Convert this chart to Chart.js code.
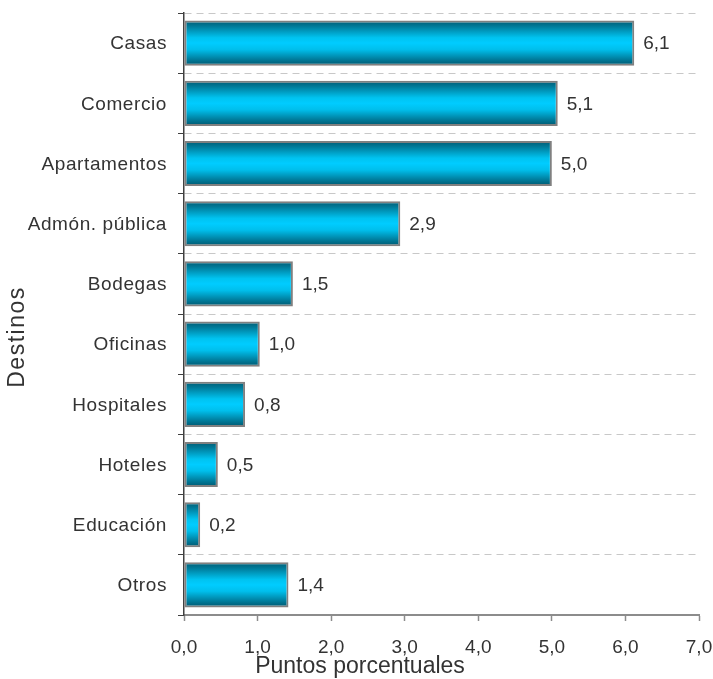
<!DOCTYPE html>
<html>
<head>
<meta charset="utf-8">
<title>Destinos - puntos porcentuales</title>
<script src="https://cdn.jsdelivr.net/npm/chart.js@4"></script>
<style>
    html, body { margin: 0; padding: 0; background: #fff; }
    #wrap { width: 713px; height: 679px; }
</style>
</head>
<body>
<div id="wrap"><canvas id="chart"></canvas></div>
<script>
// Data
const categories = ['Casas', 'Comercio', 'Apartamentos', 'Admón. pública', 'Bodegas',
                    'Oficinas', 'Hospitales', 'Hoteles', 'Educación', 'Otros'];
const values = [6.12, 5.08, 5.0, 2.94, 1.48, 1.03, 0.83, 0.46, 0.22, 1.42];
const xTicks = [0, 1, 2, 3, 4, 5, 6, 7];
const yTitle = 'Destinos';
const xTitle = 'Puntos porcentuales';

const FONT = '"Liberation Sans", Arial, sans-serif';
const TEXT = '#333333';

// Comma decimal like the original
function fmt(v) {
    return v.toFixed(1).replace('.', ',');
}

// Vertical gradient per bar (dark edges, bright cyan middle)
function barFill(c) {
    const chart = c.chart;
    const ys = chart.scales.y;
    if (!ys || c.dataIndex === undefined) return '#00ccff';
    const y = ys.getPixelForValue(c.dataIndex);
    const h = (ys.height / categories.length) * 0.75;
    if (!isFinite(y) || !isFinite(h) || h <= 0) return '#00ccff';
    const g = chart.ctx.createLinearGradient(0, y - h / 2, 0, y + h / 2);
    g.addColorStop(0, '#005a72');
    g.addColorStop(0.12, '#007896');
    g.addColorStop(0.38, '#00c3f0');
    g.addColorStop(0.5, '#00ccff');
    g.addColorStop(0.64, '#00bfec');
    g.addColorStop(0.88, '#007694');
    g.addColorStop(1, '#00566d');
    return g;
}

// Value labels, category labels and axis titles
const textPlugin = {
    id: 'extraText',
    afterDraw(chart) {
        const ctx = chart.ctx;
        const meta = chart.getDatasetMeta(0);
        const ys = chart.scales.y;

        ctx.save();
        ctx.fillStyle = TEXT;
        ctx.textBaseline = 'middle';

        // values at the end of each bar
        ctx.font = '19px ' + FONT;
        ctx.textAlign = 'left';
        meta.data.forEach((bar, i) => {
            ctx.fillText(fmt(values[i]), bar.x + 9, bar.y + 1);
        });

        // category labels
        ctx.font = '19px ' + FONT;
        ctx.letterSpacing = '0.6px';
        ctx.textAlign = 'right';
        categories.forEach((c, i) => {
            ctx.fillText(c, ys.right - 17, ys.getPixelForValue(i) + 1);
        });

        // x title
        ctx.letterSpacing = '0px';
        ctx.font = '23px ' + FONT;
        ctx.textAlign = 'center';
        ctx.fillText(xTitle, 360, 667);

        // y title
        ctx.font = '23px ' + FONT;
        ctx.letterSpacing = '1.5px';
        ctx.translate(18, 337);
        ctx.rotate(-Math.PI / 2);
        ctx.fillText(yTitle, 0, 0);
        ctx.restore();
    }
};

const ctx = document.getElementById('chart').getContext('2d');
new Chart(ctx, {
    type: 'bar',
    data: {
        labels: categories,
        datasets: [{
            data: values,
            backgroundColor: barFill,
            borderColor: '#808080',
            borderWidth: 2,
            borderSkipped: false,
            barPercentage: 0.75,
            categoryPercentage: 1.0
        }]
    },
    options: {
        indexAxis: 'y',
        responsive: true,
        maintainAspectRatio: false,
        animation: false,
        layout: { padding: { top: 13, right: 14, left: 0, bottom: 0 } },
        plugins: {
            legend: { display: false },
            tooltip: { enabled: false }
        },
        scales: {
            x: {
                min: 0,
                max: 7,
                afterFit: s => {
                    s.height = 64;
                    s.paddingLeft = 0;
                    s.paddingRight = 0;
                },
                afterBuildTicks: s => { s.ticks = xTicks.map(v => ({ value: v })); },
                ticks: {
                    color: TEXT,
                    font: { size: 19, family: FONT },
                    padding: 15,
                    maxRotation: 0,
                    callback: v => fmt(v)
                },
                grid: {
                    drawOnChartArea: false,
                    tickLength: 6,
                    tickColor: '#8c8c8c',
                    tickWidth: 1.5
                },
                border: { color: '#8c8c8c', width: 2 }
            },
            y: {
                afterFit: s => { s.width = 184; },
                ticks: { display: false },
                grid: {
                    offset: true,
                    color: '#c8c8c8',
                    tickLength: 6,
                    tickColor: '#404040',
                    tickWidth: 1,
                    tickBorderDash: []
                },
                border: { color: '#404040', width: 1.5, dash: [7, 5] }
            }
        }
    },
    plugins: [textPlugin]
});
</script>
</body>
</html>
